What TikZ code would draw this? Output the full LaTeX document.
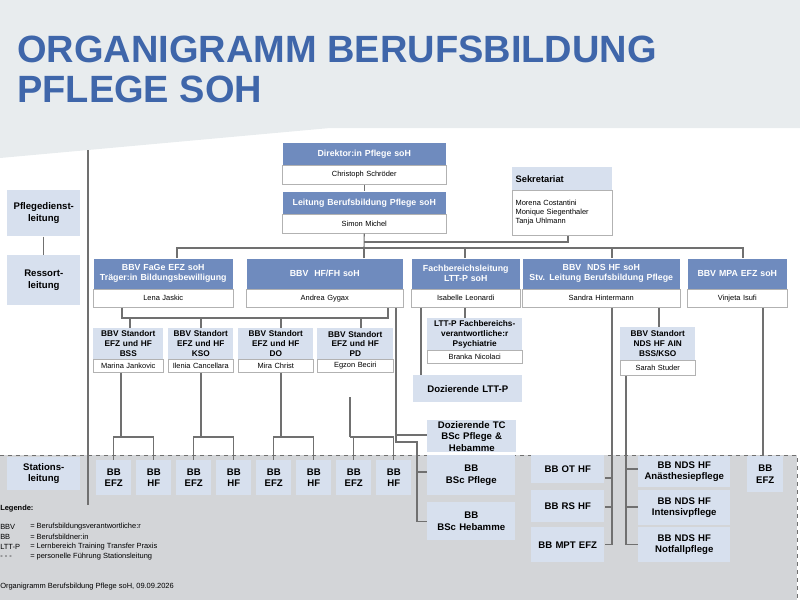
\documentclass[tikz,border=0pt]{standalone}
\usepackage{fontspec}
\setmainfont{Liberation Sans}
\usetikzlibrary{calc}
\definecolor{hdb}{HTML}{6F8BBE}
\definecolor{lb}{HTML}{D7E0EE}
\definecolor{gb}{HTML}{D3D5D8}
\definecolor{tb}{HTML}{3F66AA}
\definecolor{topg}{HTML}{E8ECEE}
\definecolor{ln}{HTML}{707070}
\tikzset{
 hd/.style={fill=hdb,draw=white,text=white,font=\bfseries\fontsize{6.6}{7.6}\selectfont,align=center,inner sep=0pt},
 nm/.style={fill=white,draw=gray!60,text=black,font=\fontsize{5.6}{6.6}\selectfont,align=center,inner sep=0pt},
 lt/.style={fill=lb,draw=none,text=black,font=\bfseries\fontsize{6.2}{7.3}\selectfont,align=center,inner sep=0pt},
 ltb/.style={lt,font=\bfseries\fontsize{7.2}{8.6}\selectfont},
 con/.style={draw=ln,line width=0.8pt},
 leg/.style={font=\fontsize{5.6}{6.8}\selectfont,anchor=west,inner sep=0pt}
}
\newcommand\orgB[7]{\node[#7,anchor=north west,minimum width={(#4-#2)*0.75pt},minimum height={(#5-#3)*0.75pt},text width={(#4-#2-4)*0.75pt}] (#1) at (#2,#3) {#6};}
\begin{document}
\begin{tikzpicture}[x=0.75pt,y=-0.75pt]
\useasboundingbox (0,0) rectangle (800,600);
\fill[topg] (0,0) -- (800,0) -- (800,128) -- (330,128) -- (0,158) -- cycle;
\fill[gb] (0,455) rectangle (797,600);
\draw[dashed,ln,line width=0.7pt] (0,455) -- (797,455) -- (797,600);
\node[anchor=west,text=tb,font=\bfseries\fontsize{28.5}{30}\selectfont,align=left,inner sep=0pt] (title) at (17,69) {ORGANIGRAMM BERUFSBILDUNG\\PFLEGE SOH};
% left column
\coordinate (lt1) at (88,150); \coordinate (lt2) at (88,505);
\draw[con] (lt1) -- (lt2);
\orgB{pdl}{7}{190}{80}{236}{Pflegedienst-\\leitung}{ltb}
\orgB{rsl}{7}{255}{80}{305}{Ressort-\\leitung}{ltb}
\orgB{stl}{7}{457}{80}{490}{Stations-\\leitung}{ltb}
\draw[con] (pdl.south) -- (rsl.north);
% top
\orgB{dirh}{282}{142}{446}{165}{Direktor:in Pflege soH}{hd}
\orgB{dirn}{282}{165}{446}{184}{Christoph Schröder}{nm}
\orgB{leih}{282}{191}{446}{214}{Leitung Berufsbildung Pflege soH}{hd}
\orgB{lein}{282}{214}{446}{233}{Simon Michel}{nm}
\draw[con] (dirn.south) -- (leih.north);
\node[lt,font=\bfseries\fontsize{7}{8}\selectfont,anchor=north west,minimum width=75pt,minimum height=17.25pt,text width=70pt,align=left] (sekh) at (512,167) {Sekretariat};
\node[nm,anchor=north west,minimum width=75pt,minimum height=33.75pt,text width=70pt,align=left] (sekn) at (512,190) {Morena Costantini\\Monique Siegenthaler\\Tanja Uhlmann};
\coordinate (bus) at (364,248);
\draw[con] (lein.south) -- (bus);
\draw[con] (sekn.south -| 568,0) -- (568,242) -- (364,242);
% row 2
\orgB{fah}{93}{258}{233}{289}{BBV FaGe EFZ soH\\Träger:in Bildungsbewilligung}{hd}
\orgB{fan}{93}{289}{233}{307}{Lena Jaskic}{nm}
\orgB{hfh}{246}{258}{403}{289}{BBV\ \ HF/FH soH}{hd}
\orgB{hfn}{246}{289}{403}{307}{Andrea Gygax}{nm}
\orgB{fbh}{411}{258}{520}{289}{Fachbereichsleitung\\LTT-P soH}{hd}
\orgB{fbn}{411}{289}{520}{307}{Isabelle Leonardi}{nm}
\orgB{ndh}{522}{258}{680}{289}{BBV\ \ NDS HF soH\\Stv. Leitung Berufsbildung Pflege}{hd}
\orgB{ndn}{522}{289}{680}{307}{Sandra Hintermann}{nm}
\orgB{mph}{687}{258}{787}{289}{BBV MPA EFZ soH}{hd}
\orgB{mpn}{687}{289}{787}{307}{Vinjeta Isufi}{nm}
\draw[con] (fah.north -| 177,0) |- (bus) -| (mph.north -| 743,0);
\draw[con] (hfh.north -| 364,0) -- (bus);
\draw[con] (fbh.north -| 465,0) -- (465,248);
\draw[con] (ndh.north -| 612,0) -- (612,248);
% standort
\orgB{s1h}{93}{328}{163}{359}{BBV Standort\\EFZ und HF\\BSS}{lt}
\orgB{s1n}{93}{359}{163}{372}{Marina Jankovic}{nm}
\orgB{s2h}{168}{328}{233}{359}{BBV Standort\\EFZ und HF\\KSO}{lt}
\orgB{s2n}{168}{359}{233}{372}{Ilenia Cancellara}{nm}
\orgB{s3h}{238}{328}{313}{359}{BBV Standort\\EFZ und HF\\DO}{lt}
\orgB{s3n}{238}{359}{313}{372}{Mira Christ}{nm}
\orgB{s4h}{317}{328}{393}{359}{BBV Standort\\EFZ und HF\\PD}{lt}
\orgB{s4n}{317}{359}{393}{372}{Egzon Beciri}{nm}
\draw[con] (fan.south -| 122,0) |- (388,318) -- (hfn.south -| 388,0);
\foreach \n/\x in {s1h/130,s2h/201,s3h/281,s4h/361} \draw[con] (\x,318) -- (\n.north -| \x,0);
% BB boxes
\foreach \i/\x/\t in {1/96/EFZ,2/136/HF,3/176/EFZ,4/216/HF,5/256/EFZ,6/296/HF,7/336/EFZ,8/376/HF}
  \orgB{bb\i}{\x}{460}{\x+35}{495}{BB\\\t}{ltb};
\foreach \s/\a/\b/\xs in {s1n/bb1/bb2/121,s2n/bb3/bb4/201,s3n/bb5/bb6/281}
  \draw[con] (\s.south -| \xs,0) -- (\xs,437) (\a.north) |- (\xs,437) -| (\b.north);
\coordinate (pd) at (350,397);
\draw[con] (pd) -- (350,437) (bb7.north) |- (350,437) -| (bb8.north);
% HF/FH right branch
\orgB{dtc}{427}{420}{516}{452}{Dozierende TC\\BSc Pflege \&\\Hebamme}{ltb}
\orgB{bscp}{427}{455}{515}{495}{BB\\BSc Pflege}{ltb}
\orgB{bsch}{427}{502}{515}{540}{BB\\BSc Hebamme}{ltb}
\draw[con] (hfn.south -| 396,0) -- (396,442) -- (417,442) |- (bsch.west);
\draw[con] (396,435) -- (dtc.west |- 0,435);
\draw[con] (417,472) -- (bscp.west |- 0,472);
% Fachbereich
\orgB{lth}{427}{318}{522}{350}{LTT-P Fachbereichs-\\verantwortliche:r\\Psychiatrie}{lt}
\orgB{ltn}{427}{350}{522}{363}{Branka Nicolaci}{nm}
\orgB{dlt}{413}{375}{522}{402}{Dozierende LTT-P}{ltb}
\draw[con] (fbn.south -| 465,0) -- (lth.north -| 465,0);
\draw[con] (fbn.south -| 421,0) -- (dlt.north -| 421,0);
% NDS
\orgB{oth}{531}{455}{604}{483}{BB OT HF}{ltb}
\orgB{rsh}{531}{490}{604}{522}{BB RS HF}{ltb}
\orgB{mpt}{531}{527}{604}{562}{BB MPT EFZ}{ltb}
\draw[con] (ndn.south -| 612,0) |- (mpt.east);
\draw[con] (612,478) -- (oth.east |- 0,478) (612,507) -- (rsh.east |- 0,507);
\orgB{sdh}{620}{327}{695}{360}{BBV Standort\\NDS HF AIN\\BSS/KSO}{lt}
\orgB{sdn}{620}{360}{695}{375}{Sarah Studer}{nm}
\draw[con] (ndn.south -| 659,0) -- (sdh.north -| 659,0);
\orgB{ana}{638}{456}{730}{487}{BB NDS HF\\Anästhesiepflege}{ltb}
\orgB{int}{638}{490}{730}{525}{BB NDS HF\\Intensivpflege}{ltb}
\orgB{nof}{638}{527}{730}{562}{BB NDS HF\\Notfallpflege}{ltb}
\draw[con] (sdn.south -| 626,0) |- (nof.west);
\draw[con] (626,469) -- (ana.west |- 0,469) (626,507) -- (int.west |- 0,507);
% MPA
\orgB{bbm}{747}{456}{783}{492}{BB\\EFZ}{ltb}
\draw[con] (mpn.south -| 763,0) -- (bbm.north -| 763,0);
% legend
\node[leg,font=\bfseries\fontsize{5.6}{6.8}\selectfont] (lg) at (0,509) {Legende:};
\node[leg] (l1) at (0,527) {BBV};  \node[leg] (l1b) at (30,527) {= Berufsbildungsverantwortliche:r};
\node[leg] (l2) at (0,537) {BB};   \node[leg] (l2b) at (30,537) {= Berufsbildner:in};
\node[leg] (l3) at (0,547) {LTT-P}; \node[leg] (l3b) at (30,547) {= Lernbereich Training Transfer Praxis};
\node[leg] (l4) at (0,557) {- - -}; \node[leg] (l4b) at (30,557) {= personelle Führung Stationsleitung};
\node[leg] (ft) at (0,587) {Organigramm Berufsbildung Pflege soH, 09.09.2026};
\end{tikzpicture}
\end{document}
